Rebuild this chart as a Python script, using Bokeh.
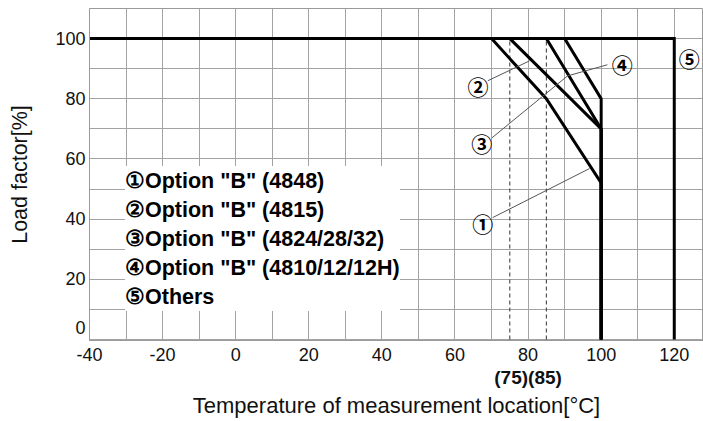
from bokeh.plotting import figure
from bokeh.models import (Range1d, FixedTicker, SingleIntervalTicker, LinearAxis,
                          Legend, LegendItem)
from bokeh.core.properties import value
from bokeh.embed import file_html
from bokeh.resources import INLINE

# ---------------- data ----------------
x_tick_step = 20
y_tick_step = 20
x_neg_labels = {-40: "-40", -20: "-20"}

opt4848_x = [-40, 70, 85, 100, 100]
opt4848_y = [100, 100, 80, 52, 0]
opt4815_x = [-40, 75, 100, 100]
opt4815_y = [100, 100, 70, 0]
opt4824_x = [-40, 85, 100, 100]
opt4824_y = [100, 100, 70, 0]
opt4810_x = [-40, 90, 100, 100]
opt4810_y = [100, 100, 80, 0]
others_x = [-40, 120, 120]
others_y = [100, 100, 0]

guide_x = [75, 85]
guide_y0 = [0, 0]
guide_y1 = [100, 100]
guide_label = "(75)(85)"
guide_label_at = 80

series_names = ['①Option "B" (4848)', '②Option "B" (4815)', '③Option "B" (4824/28/32)',
                '④Option "B" (4810/12/12H)', '⑤Others']

mark_text = ["①", "②", "③", "④", "⑤"]
mark_x = [67.6, 66.3, 67.3, 105.8, 124.1]
mark_y = [38.8, 84.3, 65.4, 91.6, 93.6]

leader_x0 = [70.3, 69.0, 70.1, 101.7]
leader_y0 = [40.5, 86.0, 67.0, 91.3]
leader_x1 = [96.8, 80.4, 90.8, 90.8]
leader_y1 = [56.8, 92.6, 87.6, 87.6]

FONT = "'Liberation Sans', 'Noto Sans CJK JP'"
GRID = "#a3a3a3"

p = figure(frame_width=614, frame_height=332, output_backend="svg", toolbar_location=None,
           x_range=Range1d(-40, 128), y_range=Range1d(-0.33, 110),
           min_border_left=89, min_border_right=0, min_border_top=8, min_border_bottom=0)
p.background_fill_color = "white"
p.outline_line_color = "#9a9a9a"
p.outline_line_width = 1

xa = p.xaxis[0]
xa.ticker = SingleIntervalTicker(interval=x_tick_step, num_minor_ticks=2)
xa.major_label_overrides = x_neg_labels
ya = p.yaxis[0]
ya.ticker = SingleIntervalTicker(interval=y_tick_step, num_minor_ticks=2)

for g in (p.xgrid[0], p.ygrid[0]):
    g.grid_line_color = GRID
    g.grid_line_width = 1
    g.minor_grid_line_color = GRID
    g.minor_grid_line_width = 1

for ax in (xa, ya):
    ax.axis_line_color = "#9a9a9a"
    ax.major_tick_line_color = None
    ax.minor_tick_line_color = None
    ax.major_tick_out = 0
    ax.major_tick_in = 0
    ax.minor_tick_out = 0
    ax.minor_tick_in = 0
    ax.major_label_text_font = FONT
    ax.major_label_text_font_size = "18px"
    ax.major_label_text_color = "#111111"
xa.major_label_standoff = 7
ya.major_label_standoff = 4
ya.major_label_overrides = {0: "0\n "}
ya.axis_label = "Load factor[%]"
ya.axis_label_text_font = FONT
ya.axis_label_text_font_size = "21.5px"
ya.axis_label_text_font_style = "normal"
ya.axis_label_text_color = "#111111"
ya.axis_label_standoff = 20

ax2 = LinearAxis(ticker=FixedTicker(ticks=[guide_label_at]),
                 major_label_overrides={guide_label_at: guide_label})
ax2.axis_line_color = None
ax2.major_tick_line_color = None
ax2.minor_tick_line_color = None
ax2.major_tick_out = 0
ax2.major_tick_in = 0
ax2.major_label_standoff = 3
ax2.major_label_text_font = FONT
ax2.major_label_text_font_size = "19px"
ax2.major_label_text_font_style = "bold"
ax2.major_label_text_color = "#111111"
ax2.axis_label = "Temperature of measurement location[°C]"
ax2.axis_label_text_font = FONT
ax2.axis_label_text_font_size = "22px"
ax2.axis_label_text_font_style = "normal"
ax2.axis_label_text_color = "#111111"
ax2.axis_label_standoff = 2
p.add_layout(ax2, "below")

# guide dashed lines
p.segment(x0=guide_x, y0=guide_y0, x1=guide_x, y1=guide_y1,
          line_color="#333333", line_width=1, line_dash="4 3")

# curves
lw = 3
r1 = p.line(opt4848_x, opt4848_y, line_color="black", line_width=lw, line_join="miter")
r2 = p.line(opt4815_x, opt4815_y, line_color="black", line_width=lw, line_join="miter")
r3 = p.line(opt4824_x, opt4824_y, line_color="black", line_width=lw, line_join="miter")
r4 = p.line(opt4810_x, opt4810_y, line_color="black", line_width=lw, line_join="miter")
r5 = p.line(others_x, others_y, line_color="black", line_width=lw, line_join="miter")

# leaders and marks
p.segment(x0=leader_x0, y0=leader_y0, x1=leader_x1, y1=leader_y1,
          line_color="#555555", line_width=1)
p.text(x=mark_x, y=mark_y, text=mark_text, text_font=value("Noto Sans CJK JP"),
       text_font_size="21px", text_font_style="bold", text_align="center",
       text_baseline="middle", text_color="black")

legend = Legend(items=[LegendItem(label=n, renderers=[r]) for n, r in
                       zip(series_names, [r1, r2, r3, r4, r5])],
                location=(36, 29), orientation="vertical",
                glyph_width=0, glyph_height=29, label_height=29, label_standoff=0,
                spacing=0, padding=10, margin=0,
                background_fill_color="white", background_fill_alpha=1.0,
                border_line_color=None,
                label_text_font="Liberation Sans", label_text_font_size="21.5px",
                label_text_font_style="bold", label_text_color="black")
p.add_layout(legend, "center")

open("out.html", "w").write(file_html(p, INLINE))
